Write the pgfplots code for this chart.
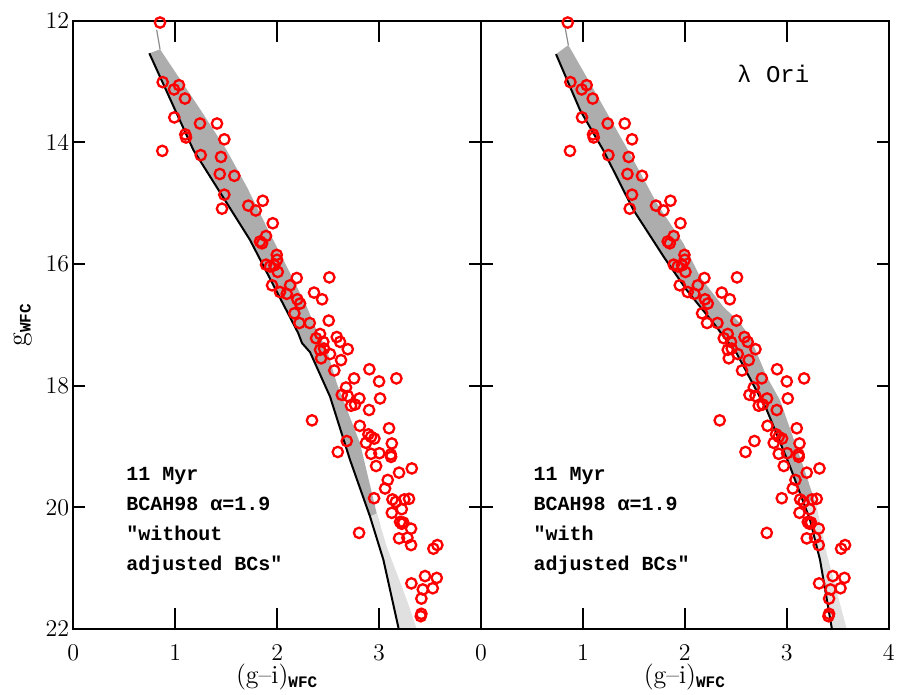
\documentclass[border=0pt]{standalone}
\usepackage{fontspec}
\setmonofont{Liberation Mono}
\usepackage{pgfplots}
\usepackage{pgfplotstable}
\pgfplotsset{compat=1.18}

\pgfplotstableread{
x y
0.851 12.03
0.877 13.01
0.988 13.13
1.037 13.06
1.096 13.28
0.991 13.59
1.243 13.69
1.410 13.69
1.099 13.87
1.106 13.92
1.482 13.95
0.873 14.14
1.250 14.21
1.449 14.24
1.437 14.52
1.580 14.55
1.482 14.86
1.459 15.09
1.717 15.04
1.790 15.12
1.859 14.96
1.957 15.33
1.891 15.54
1.832 15.63
1.852 15.66
1.996 15.85
1.999 15.93
1.891 16.01
1.930 16.04
1.973 16.02
2.006 16.13
2.192 16.23
2.512 16.22
1.950 16.35
2.127 16.35
2.028 16.46
2.094 16.49
2.362 16.47
2.441 16.58
2.198 16.58
2.225 16.65
2.169 16.81
2.218 16.97
2.320 16.97
2.506 16.93
2.421 17.15
2.382 17.22
2.585 17.20
2.617 17.28
2.453 17.28
2.460 17.39
2.421 17.41
2.693 17.40
2.519 17.48
2.431 17.55
2.627 17.58
2.561 17.75
2.905 17.73
2.755 17.88
3.000 17.93
3.170 17.88
2.676 18.03
2.634 18.15
2.693 18.17
2.807 18.21
3.010 18.21
2.725 18.33
2.764 18.31
2.902 18.40
2.342 18.57
2.811 18.66
3.098 18.70
2.895 18.80
2.921 18.84
2.954 18.87
2.872 18.94
3.125 18.95
2.683 18.91
2.595 19.09
2.921 19.12
3.003 19.11
3.115 19.13
3.118 19.17
2.971 19.32
3.321 19.36
3.196 19.43
3.085 19.55
3.059 19.69
2.951 19.85
3.131 19.87
3.164 19.91
3.248 19.87
3.294 19.86
3.223 20.03
3.125 20.09
3.206 20.24
3.238 20.25
3.223 20.27
3.314 20.35
2.804 20.42
3.196 20.51
3.278 20.50
3.314 20.62
3.533 20.68
3.572 20.62
3.451 21.13
3.566 21.16
3.317 21.25
3.429 21.35
3.527 21.33
3.415 21.50
3.415 21.75
3.409 21.79
}\stars

\newcommand{\wfc}{$_{\mbox{\ttfamily\bfseries\fontsize{8}{8}\selectfont WFC}}$}

\tikzset{
  ann/.style={anchor=north west, inner sep=0pt, align=left,
        font=\ttfamily\bfseries\fontsize{10}{15}\selectfont},
}
\pgfplotsset{
  panel/.style={
    scale only axis, width=203.85pt, height=304.15pt,
    xmin=0, xmax=4, ymin=12, ymax=22, y dir=reverse,
    ytick={12,14,16,18,20,22},
    tick align=inside,
    major tick length=10.5pt,
    ytick style={/pgfplots/major tick length=6pt},
    axis line style={line width=1pt},
    every tick/.append style={line width=1pt, black},
    tick label style={font=\fontsize{13}{13}\selectfont},
    xticklabel style={yshift=-4.5pt},
    yticklabel style={xshift=1.5pt},
    ylabel style={font=\fontsize{14}{14}\selectfont},
    xlabel style={font=\fontsize{13}{13}\selectfont, yshift=5pt},
    xlabel={(g\textendash i)\wfc},
    axis on top,
  },
  stars/.style={only marks, mark=o, mark size=2.6pt, color=red, mark options={line width=1.15pt}},
  band/.style={draw=none, fill=black!32},
  sparse/.style={draw=none, fill=black!12},
  iso/.style={black, line width=1pt},
}

\begin{document}
\begin{tikzpicture}
\begin{axis}[panel, name=left, at={(0,0)}, anchor=south west,
  xtick={0,1,2,3},
  ylabel={g\wfc}]
  % dense part of the model band
  \addplot[band] coordinates {
    (0.746,12.536) (1.178,14.126) (1.734,15.605) (2.205,17.13) (2.244,17.30)
    (2.323,17.45) (2.519,18.18) (2.715,19.22) (2.911,20.15) (2.939,20.30)
    (3.013,20.30) (2.977,20.10) (2.814,18.95) (2.585,17.96) (2.487,17.41)
    (2.372,17.03) (2.290,16.70) (2.127,16.15) (1.930,15.50) (1.702,14.73)
    (1.505,14.13) (1.250,13.47) (0.851,12.47) (0.746,12.536)};
  % sparse tail
  \addplot[sparse] coordinates {
    (2.911,20.15) (3.042,20.86) (3.189,21.97) (3.19,22.0) (3.37,22.0)
    (3.272,21.52) (3.076,20.65) (2.977,20.10) (2.911,20.15)};
  \addplot[black!45, line width=0.6pt] coordinates {(0.851,12.47) (0.818,12.15)};
  % solid isochrone
  \addplot[iso] coordinates {
    (0.746,12.536) (1.178,14.126) (1.734,15.605) (2.205,17.13) (2.244,17.30)
    (2.323,17.45) (2.519,18.18) (2.715,19.22) (2.911,20.15) (3.042,20.86)
    (3.189,21.97) (3.19,22.0)};
  \addplot[stars] table {\stars};
  \node[ann] at (axis cs:0.517,19.33) {11 Myr\\BCAH98 α=1.9\\"without\\adjusted BCs"};
\end{axis}
\begin{axis}[panel, name=right, at={(left.south east)}, anchor=south west,
  xtick={0,1,2,3,4}, yticklabels={}]
  \addplot[band] coordinates {
    (0.736,12.55) (0.972,13.47) (1.200,14.13) (1.495,15.11) (1.80,15.90)
    (2.019,16.43) (2.280,16.97) (2.509,17.47) (2.804,18.40) (3.032,19.33)
    (3.160,19.90) (3.276,19.90) (3.163,19.33) (2.934,18.24) (2.803,17.85)
    (2.640,17.20) (2.541,16.97) (2.377,16.70) (2.149,16.21) (1.985,15.66)
    (1.724,15.00) (1.460,14.18) (1.200,13.41) (0.857,12.40) (0.736,12.55)};
  \addplot[sparse] coordinates {
    (3.160,19.90) (3.229,20.21) (3.327,20.87) (3.442,21.99) (3.443,22.0)
    (3.588,22.0) (3.392,20.76) (3.294,19.99) (3.276,19.90) (3.160,19.90)};
  \addplot[black!45, line width=0.6pt] coordinates {(0.857,12.40) (0.824,12.10)};
  \addplot[iso] coordinates {
    (0.736,12.55) (0.972,13.47) (1.200,14.13) (1.495,15.11) (1.80,15.90)
    (2.019,16.43) (2.280,16.97) (2.509,17.47) (2.804,18.40) (3.032,19.33)
    (3.229,20.21) (3.327,20.87) (3.442,21.99) (3.443,22.0)};
  \addplot[stars] table {\stars};
  \node[ann] at (axis cs:0.513,19.33) {11 Myr\\BCAH98 α=1.9\\"with\\adjusted BCs"};
  \node[anchor=base west, inner sep=0pt, font=\ttfamily\fontsize{12}{12}\selectfont]
    at (axis cs:2.51,13.01) {λ Ori};
\end{axis}
\pgfresetboundingbox
\path[use as bounding box] (left.south west) ++(-36.65pt,-33pt) rectangle ++(449.5pt,347.5pt);
\end{tikzpicture}
\end{document}
